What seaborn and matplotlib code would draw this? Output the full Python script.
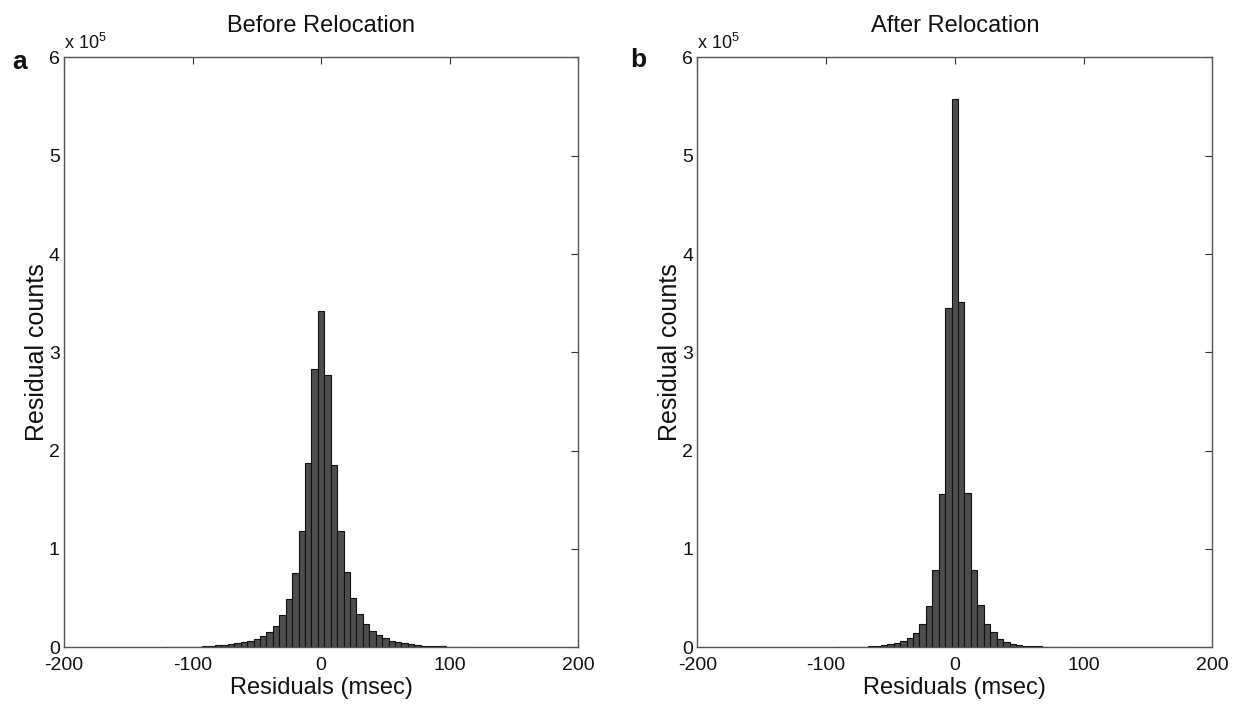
import numpy as np
import pandas as pd
import matplotlib
matplotlib.use("Agg")
import matplotlib.pyplot as plt
import seaborn as sns
from matplotlib.ticker import FuncFormatter

sns.set_theme(style="white")
plt.rcParams["font.family"] = ["Liberation Sans", "DejaVu Sans"]
plt.rcParams["mathtext.fontset"] = "custom"
plt.rcParams["mathtext.rm"] = "Liberation Sans"
plt.rcParams["mathtext.it"] = "Liberation Sans"

# Residual histogram bin centres (msec) and counts
before_centers = list(range(-120, 120, 5))
before_counts = [200, 300, 400, 500, 600, 800, 1000, 1400, 2000, 2700,
                 3400, 4400, 5400, 6400, 8500, 11200, 15600, 22000, 33200, 49500,
                 75600, 118000, 187100, 283000, 341700, 277300, 185100, 118000, 76300, 50500,
                 34200, 23400, 16900, 12200, 9200, 6400, 5100, 4100, 3100, 2400,
                 1700, 1400, 1100, 900, 700, 500, 400, 300]

after_centers = list(range(-90, 95, 5))
after_counts = [200, 300, 400, 600, 800, 1000, 1500, 2300, 3000, 4100,
                6400, 9400, 14300, 23700, 42200, 79100, 155600, 344600, 558000, 350700,
                157100, 79100, 43300, 23700, 15100, 8700, 5600, 3400, 2300, 1800,
                1300, 1000, 800, 600, 400, 300, 200]

titles = ["Before Relocation", "After Relocation"]
panel_letters = ["a", "b"]
x_ticks = [-200, -100, 0, 100, 200]
y_ticks = [0, 100000, 200000, 300000, 400000, 500000, 600000]

fig = plt.figure(figsize=(12.41, 7.08), dpi=100)
ax_a = fig.add_axes([0.0516, 0.0857, 0.4142, 0.8333])
ax_b = fig.add_axes([0.5619, 0.0857, 0.4150, 0.8333])

datasets = [(before_centers, before_counts), (after_centers, after_counts)]
letter_pos = [(-0.086, 0.992), (-0.115, 0.995)]
binwidth = 5

for ax, (centers, counts), title, letter, lpos in zip(
        [ax_a, ax_b], datasets, titles, panel_letters, letter_pos):
    df = pd.DataFrame({"residual": centers, "count": counts})
    lo = min(centers) - binwidth / 2
    hi = max(centers) + binwidth / 2
    sns.histplot(data=df, x="residual", weights="count", binwidth=binwidth,
                 binrange=(lo, hi), color="#4d4d4d", alpha=1.0,
                 edgecolor="#111111", linewidth=0.8, ax=ax)
    ax.set_xlim(-200, 200)
    ax.set_ylim(0, 600000)
    ax.set_xticks(x_ticks)
    ax.set_yticks(y_ticks)
    ax.yaxis.set_major_formatter(FuncFormatter(lambda v, p: f"{v / 1e5:g}"))
    ax.xaxis.set_major_formatter(FuncFormatter(lambda v, p: f"{v:g}"))
    ax.tick_params(direction="in", length=5, width=0.8, color="#333333",
                   top=True, right=True, labelsize=14, labelcolor="#111111")
    ax.tick_params(axis="y", pad=3)
    ax.tick_params(axis="x", pad=7)
    for s in ax.spines.values():
        s.set_color("#555555")
        s.set_linewidth(1.0)
    ax.set_xlabel("Residuals (msec)", fontsize=17, labelpad=2, color="#111111")
    ax.set_ylabel("Residual counts", fontsize=18, labelpad=0, color="#111111")
    ax.set_title(title, fontsize=17, pad=18, color="#111111")
    ax.text(0.0, 1.008, r"x 10$^5$", transform=ax.transAxes, fontsize=13,
            ha="left", va="bottom", color="#111111")
    ax.text(lpos[0], lpos[1], letter, transform=ax.transAxes, fontsize=19,
            fontweight="bold", ha="center", va="center", color="#111111")

fig.savefig("out.png", dpi=100, facecolor="white")
